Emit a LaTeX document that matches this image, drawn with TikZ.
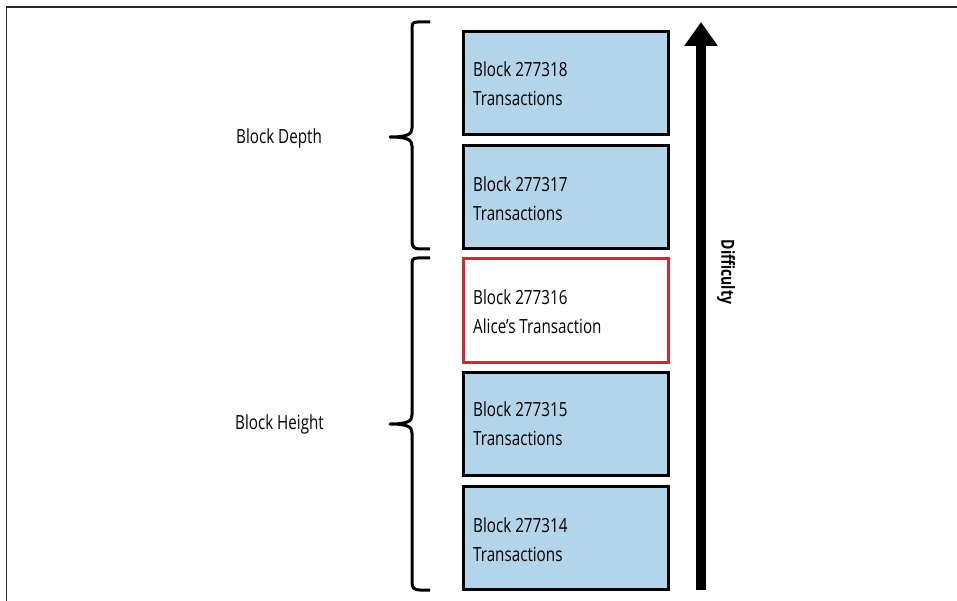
\documentclass[tikz,border=0pt]{standalone}
\usepackage{fontspec}
\setmainfont[FakeStretch=0.78]{Open Sans}
\usetikzlibrary{arrows.meta}
\definecolor{blockblue}{HTML}{B3D4E9}
\definecolor{alicered}{HTML}{CC2B36}
\tikzset{
  blockbox/.style={draw=black, line width=3pt, fill=blockblue, minimum width=205pt, minimum height=103pt, inner sep=0pt},
  alicebox/.style={blockbox, draw=alicered, fill=white},
  blocktext/.style={anchor=west, font=\fontsize{19.5}{29}\selectfont, align=left, inner sep=0pt},
  bracepath/.style={line width=3pt, line cap=butt, line join=round},
  sidelabel/.style={font=\fontsize{19.5}{22}\selectfont, inner sep=0pt},
}
\begin{document}
\begin{tikzpicture}[x=1pt, y=-1pt]
\useasboundingbox (0,0) rectangle (957,601);
\draw[line width=1.5pt, black!85] (6.5,601) -- (6.5,7) -- (957,7);
% blocks
\node[blockbox] (b18) at (565.5,83.5) {};
\node[blockbox] (b17) at (565.5,197) {};
\node[alicebox] (b16) at (565.5,310.5) {};
\node[blockbox] (b15) at (565.5,423.5) {};
\node[blockbox] (b14) at (565.5,537.5) {};
\node[blocktext] (t18) at (473,84) {Block 277318\\Transactions};
\node[blocktext] (t17) at (473,199) {Block 277317\\Transactions};
\node[blocktext] (t16) at (473,312) {Block 277316\\Alice’s Transaction};
\node[blocktext] (t15) at (473,424) {Block 277315\\Transactions};
\node[blocktext] (t14) at (473,540) {Block 277314\\Transactions};
% braces
\coordinate (d1) at (430,22);
\coordinate (d2) at (430,249);
\coordinate (dtip) at (390,137);
\draw[bracepath] (d1) -- (418,22) .. controls (412,22) and (412,24) .. (412,30)
  -- (412,128) .. controls (412,134) and (408,137) .. (dtip)
  .. controls (408,137) and (412,140) .. (412,146)
  -- (412,241) .. controls (412,247) and (414,249) .. (420,249) -- (d2);
\coordinate (h1) at (430,258);
\coordinate (h2) at (430,590);
\coordinate (htip) at (390,424);
\draw[bracepath] (h1) -- (418,258) .. controls (412,258) and (412,260) .. (412,266)
  -- (412,415) .. controls (412,421) and (408,424) .. (htip)
  .. controls (408,424) and (412,427) .. (412,433)
  -- (412,582) .. controls (412,588) and (414,590) .. (420,590) -- (h2);
\node[sidelabel] (depth) at (279,138) {Block Depth};
\node[sidelabel] (height) at (279.5,424) {Block Height};
% difficulty arrow
\coordinate (abot) at (701,590);
\coordinate (atop) at (701,22);
\draw[line width=10pt, -{Triangle[length=24pt, width=32pt]}] (abot) -- (atop);
\node[rotate=-90, font=\bfseries\fontsize{18}{20}\selectfont, inner sep=0pt] (diff) at (726,272) {Difficulty};
\end{tikzpicture}
\end{document}
